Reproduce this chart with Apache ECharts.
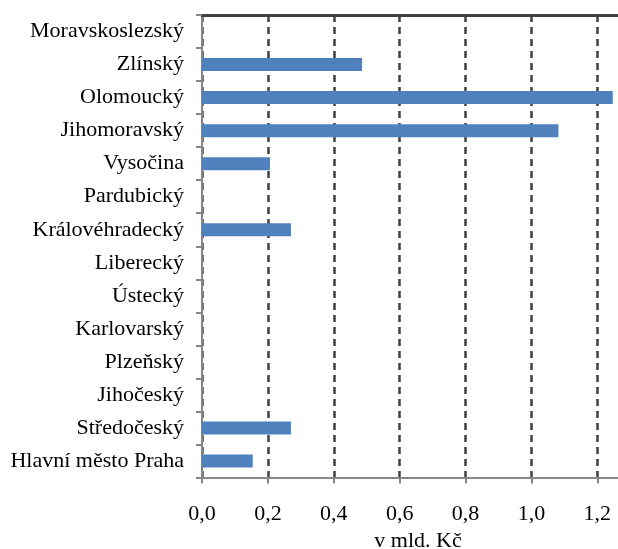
<!DOCTYPE html>
<html>
<head>
<meta charset="utf-8">
<script src="https://cdn.jsdelivr.net/npm/echarts@6/dist/echarts.min.js"></script>
<style>
  html, body { margin: 0; padding: 0; background: #fff; }
  #chart { width: 618px; height: 549px; }
</style>
</head>
<body>
<div id="chart"></div>
<script>
// Regions, listed bottom to top as they appear on the category axis
const regions = [
  'Hlavní město Praha', 'Středočeský', 'Jihočeský', 'Plzeňský', 'Karlovarský',
  'Ústecký', 'Liberecký', 'Královéhradecký', 'Pardubický', 'Vysočina',
  'Jihomoravský', 'Olomoucký', 'Zlínský', 'Moravskoslezský'
];
// Amounts in billions of CZK
const amounts = [0.154, 0.27, 0, 0, 0, 0, 0, 0.27, 0, 0.206, 1.082, 1.247, 0.486, 0];
const valueTicks = [0, 0.2, 0.4, 0.6, 0.8, 1.0, 1.2];
const axisTitle = 'v mld. Kč';

const FONT = 'Liberation Serif';
const chart = echarts.init(document.getElementById('chart'));
// plot runs past the right edge of the canvas, so the last grid line stays hidden
const valueMax = 1.3236;

chart.setOption({
  animation: false,
  grid: { left: 202, right: -20, top: 15, bottom: 71.5, outerBoundsMode: 'none', containLabel: false },
  xAxis: [{
    type: 'value',
    min: 0,
    max: valueMax,
    interval: 0.2,
    name: axisTitle,
    nameLocation: 'middle',
    nameGap: 50,
    nameTextStyle: { fontFamily: FONT, fontSize: 22, color: '#000', padding: [0, 4, 0, 0] },
    axisLine: { show: true, lineStyle: { color: '#868686', width: 2 } },
    axisTick: { show: true, length: 6, lineStyle: { color: '#868686', width: 2 } },
    axisLabel: {
      fontFamily: FONT, fontSize: 22, color: '#000', margin: 26,
      showMaxLabel: false,
      formatter: v => valueTicks.some(t => Math.abs(t - v) < 1e-9) ? v.toFixed(1).replace('.', ',') : ''
    },
    splitLine: { show: true, lineStyle: { color: '#404040', width: 2.5, type: [7, 5] } }
  }, {
    type: 'value',
    position: 'top',
    min: 0,
    max: valueMax,
    axisLine: { show: true, lineStyle: { color: '#404040', width: 3 } },
    axisTick: { show: false },
    axisLabel: { show: false },
    splitLine: { show: false }
  }],
  yAxis: {
    type: 'category',
    data: regions,
    axisLine: { show: true, lineStyle: { color: '#868686', width: 2 } },
    axisTick: { show: true, length: 6, lineStyle: { color: '#868686', width: 2 } },
    axisLabel: { fontFamily: FONT, fontSize: 22, color: '#000', margin: 18, padding: [9, 0, 0, 0] },
    splitLine: { show: false }
  },
  series: [{
    type: 'bar',
    data: amounts,
    barWidth: 13,
    itemStyle: { color: '#4F81BD' }
  }]
});
</script>
</body>
</html>
